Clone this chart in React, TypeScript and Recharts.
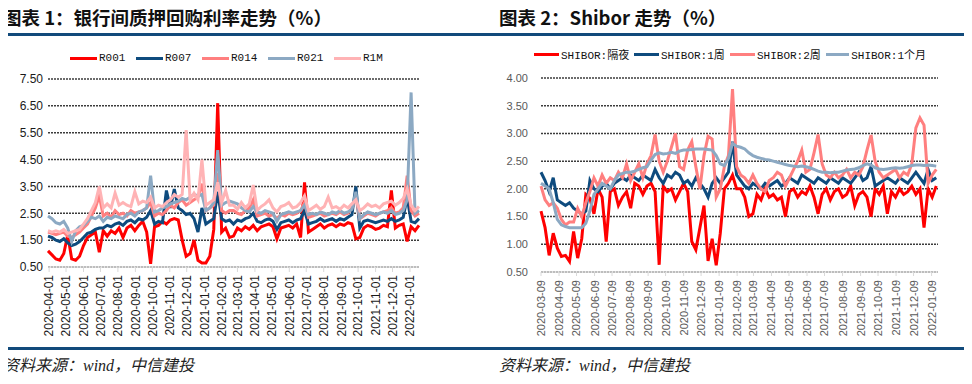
import React from "react";
import { LineChart, Line, XAxis, YAxis, CartesianGrid } from "recharts";

// weekly samples
const REPO_START = "2020-03-30";
const repoTickLabels = [
  "2020-04-01", "2020-05-01", "2020-06-01", "2020-07-01", "2020-08-01", "2020-09-01",
  "2020-10-01", "2020-11-01", "2020-12-01", "2021-01-01", "2021-02-01", "2021-03-01",
  "2021-04-01", "2021-05-01", "2021-06-01", "2021-07-01", "2021-08-01", "2021-09-01",
  "2021-10-01", "2021-11-01", "2021-12-01", "2022-01-01",
];
const repoYTicks = [0.5, 1.5, 2.5, 3.5, 4.5, 5.5, 6.5, 7.5];

const r001 = [
  1.1, 0.95, 0.8, 0.75, 1.0, 1.7, 0.8, 0.75, 0.9, 1.3,
  1.6, 1.7, 1.8, 1.05, 1.85, 1.65, 1.85, 1.75, 1.95, 1.6,
  1.95, 2.05, 1.85, 2.05, 2.2, 1.8, 0.62, 2.0, 2.05, 2.2,
  2.1, 2.25, 2.3, 2.25, 1.5, 0.9, 1.0, 1.5, 0.75, 0.65,
  0.65, 0.9, 1.9, 6.6, 1.8, 1.95, 1.6, 1.65, 1.95, 1.85,
  2.0, 1.9, 2.05, 1.85, 2.0, 2.05, 2.1, 2.0, 1.55, 1.95,
  2.0, 2.05, 1.95, 2.1, 1.6, 3.65, 1.8, 1.9, 2.0, 2.1,
  1.95, 2.05, 2.1, 2.0, 2.1, 2.05, 2.15, 2.1, 1.55, 1.6,
  1.95, 2.05, 2.0, 1.9, 1.95, 2.05, 2.0, 3.35, 1.95, 2.05,
  2.1, 1.45, 2.0, 1.85, 2.05,
];
const r007 = [
  1.65, 1.6, 1.5, 1.45, 1.55, 1.4, 1.3, 1.35, 1.45, 1.6,
  1.75, 1.8, 1.9, 1.95, 1.95, 2.05, 2.0, 2.1, 2.15, 2.05,
  2.2, 2.25, 2.15, 2.3, 2.25, 2.35, 2.6, 2.1, 2.2, 2.15,
  3.35, 2.7, 3.4, 2.7, 2.6, 2.45, 2.5, 2.3, 1.8, 2.7,
  2.1, 2.2, 2.3, 3.3, 2.3, 2.2, 2.25, 2.1, 2.25, 2.2,
  2.3, 2.35, 2.5, 2.2, 2.15, 2.25, 2.3, 2.2, 1.9, 2.15,
  2.2, 2.25, 2.15, 2.25, 2.3, 2.6, 2.1, 2.15, 2.2, 2.3,
  2.2, 2.25, 2.3, 2.2, 2.3, 2.25, 2.35, 2.45, 3.5, 1.95,
  2.2, 2.25, 2.2, 2.15, 2.2, 2.25, 2.2, 2.3, 2.2, 2.25,
  2.35, 3.1, 2.2, 2.15, 2.3,
];
const r014 = [
  1.8, 1.75, 1.7, 1.75, 1.8, 1.65, 1.6, 1.7, 1.8, 1.95,
  2.1, 2.4, 2.7, 3.15, 2.4, 2.5, 2.35, 2.6, 2.45, 2.5,
  2.4, 2.6, 2.5, 2.55, 2.6, 2.7, 2.9, 2.4, 2.5, 2.45,
  2.6, 2.8, 2.7, 2.9, 3.0, 2.8, 2.9, 3.0, 3.1, 3.6,
  2.6, 2.7, 2.8, 4.0, 2.6, 2.5, 2.6, 2.6, 2.5, 2.45,
  2.6, 2.7, 3.0, 2.4, 2.45, 2.5, 2.4, 2.45, 2.3, 2.45,
  2.4, 2.5, 2.45, 2.5, 2.6, 2.9, 2.35, 2.4, 2.45, 2.5,
  2.4, 2.45, 2.5, 2.45, 2.55, 2.45, 2.5, 2.7, 3.1, 2.3,
  2.4, 2.5, 2.45, 2.4, 2.5, 2.55, 2.6, 2.7, 2.5, 2.55,
  2.7, 3.9, 2.6, 2.4, 2.5,
];
const r021 = [
  2.4, 2.3, 2.15, 2.1, 2.2, 1.95, 1.45, 1.85, 2.0, 2.05,
  2.2, 2.35, 2.3, 2.4, 2.2, 2.35, 2.3, 2.4, 2.35, 2.3,
  2.45, 2.5, 2.4, 2.55, 2.6, 2.7, 3.9, 2.55, 2.6, 2.7,
  2.75, 2.85, 2.9, 2.95, 3.05, 3.0, 3.1, 3.2, 3.15, 3.2,
  2.6, 2.7, 2.9, 4.85, 2.8, 2.9, 2.95, 2.9, 2.85, 2.7,
  2.6, 2.55, 2.75, 2.55, 2.5, 2.6, 2.55, 2.5, 2.2, 2.45,
  2.5, 2.55, 2.5, 2.55, 2.6, 2.8, 2.45, 2.5, 2.45, 2.55,
  2.5, 2.45, 2.55, 2.5, 2.6, 2.5, 2.55, 2.65, 3.3, 2.3,
  2.45, 2.55, 2.5, 2.45, 2.5, 2.55, 2.5, 2.6, 2.45, 2.5,
  2.6, 3.0, 7.0, 2.5, 2.6,
];
const r1m = [
  1.85, 1.8, 1.85, 1.8, 1.9, 1.75, 1.8, 1.85, 1.9, 2.1,
  2.3, 2.6, 2.9, 3.5, 2.7, 2.85, 2.7, 3.25, 2.8, 2.9,
  2.8, 2.75, 3.3, 2.85, 2.95, 2.9, 3.1, 2.7, 2.8, 2.75,
  2.9, 3.0, 3.2, 3.1, 3.2, 5.6, 3.0, 3.25, 3.0, 4.5,
  2.8, 2.9, 3.0, 3.65, 2.9, 3.35, 2.8, 2.8, 2.65, 2.9,
  2.7, 2.85, 3.55, 2.6, 2.75, 2.85, 3.0, 2.7, 2.55, 2.75,
  2.8, 2.9, 2.7, 2.75, 2.9, 3.15, 2.6, 2.7, 2.8, 2.65,
  2.75, 3.1, 2.7, 2.75, 2.65, 2.8, 2.7, 2.85, 3.0, 2.6,
  2.7, 2.85, 2.75, 2.8, 2.7, 2.85, 2.9, 2.95, 2.8, 2.9,
  3.05, 3.4, 2.8, 2.6, 2.75,
];

const SHIBOR_START = "2020-03-09";
const shiborTickLabels = [
  "2020-03-09", "2020-04-09", "2020-05-09", "2020-06-09", "2020-07-09", "2020-08-09",
  "2020-09-09", "2020-10-09", "2020-11-09", "2020-12-09", "2021-01-09", "2021-02-09",
  "2021-03-09", "2021-04-09", "2021-05-09", "2021-06-09", "2021-07-09", "2021-08-09",
  "2021-09-09", "2021-10-09", "2021-11-09", "2021-12-09", "2022-01-09",
];
const shiborYTicks = [0.5, 1.0, 1.5, 2.0, 2.5, 3.0, 3.5, 4.0];

const shiborON = [
  1.6, 1.3, 0.8, 1.2, 0.93, 0.78, 0.8, 0.69, 1.23, 0.75,
  1.1, 1.9, 1.83, 1.55, 2.0, 1.85, 1.05, 1.95, 2.0, 1.7,
  1.85, 1.95, 1.65, 2.1, 2.05, 1.9, 2.05, 2.1, 1.95, 0.63,
  2.05, 1.95, 2.0, 1.8, 1.95, 2.1, 1.95, 1.05, 0.9, 1.3,
  1.7, 0.7, 1.1, 0.62, 1.2, 2.0, 2.1, 2.25, 2.0, 2.0,
  1.85, 1.5, 1.55, 1.9, 1.8, 2.0, 1.85, 1.9, 1.8, 1.85,
  1.5, 1.95, 2.0, 1.85, 1.95, 1.9, 2.05, 1.85, 1.55, 1.9,
  2.0, 1.8, 1.95, 2.0, 1.85, 1.9, 2.05, 1.7, 1.9, 1.95,
  1.85, 1.5, 2.0, 1.9, 2.05, 1.55, 1.95, 1.85, 2.0, 1.9,
  1.95, 2.05, 1.9, 2.0, 1.3, 2.0, 1.85, 2.05,
];
const shibor1W = [
  2.3, 2.15, 1.95, 2.2, 1.8, 1.75, 1.7, 1.75, 1.65, 1.6,
  1.55, 1.6, 2.15, 2.0, 1.95, 2.05, 2.1, 2.0, 2.1, 2.15,
  2.2, 2.15, 2.25, 2.2, 2.15, 2.25, 2.2, 2.15, 2.35, 2.2,
  2.1, 2.25, 2.2, 2.3, 2.25, 2.1, 2.15, 2.05, 2.2, 2.1,
  2.0, 1.85, 2.1, 2.2, 2.1, 2.2, 2.3, 2.85, 2.25, 2.15,
  2.05, 2.0, 2.1, 2.05, 2.0, 2.1, 2.05, 2.1, 2.15, 2.05,
  2.1, 2.2, 2.15, 2.1, 2.25, 2.2, 2.15, 2.1, 2.2, 2.15,
  2.1, 2.2, 2.15, 2.1, 2.2, 2.15, 2.1, 2.2, 2.3, 2.15,
  2.2, 2.4, 2.05, 2.1, 2.15, 2.2, 2.15, 2.1, 2.2, 2.15,
  2.1, 2.2, 2.3, 2.2, 2.1, 2.35, 2.15, 2.2,
];
const shibor2W = [
  2.05, 1.8, 1.7, 1.75, 1.65, 1.45, 1.35, 1.4, 1.4, 1.65,
  1.5, 1.75, 1.95, 2.2, 2.05, 2.25, 2.1, 2.2, 2.15, 2.3,
  2.2, 2.45, 2.15, 2.3, 2.45, 2.2, 2.45, 2.6, 2.98, 2.5,
  2.3, 2.5, 2.75, 3.0, 2.4, 2.35, 2.7, 2.85, 2.4, 2.0,
  2.6, 2.95, 2.9, 1.85, 2.0, 2.4, 2.6, 3.8, 2.4, 2.25,
  2.2, 2.1, 2.25, 2.1, 2.0, 1.95, 2.15, 2.2, 2.3, 2.25,
  2.05, 2.2, 2.35, 2.5, 2.7, 2.3, 2.35, 2.65, 2.98, 2.45,
  2.25, 2.2, 2.3, 2.2, 2.25, 2.35, 2.2, 2.3, 2.25, 2.4,
  2.7, 2.97, 2.5, 2.3, 2.2, 2.25, 2.3, 2.35, 2.2, 2.3,
  2.25, 2.45, 3.1, 3.28, 3.15, 2.1, 2.25, 2.35,
];
const shibor1M = [
  2.1, 2.05, 2.0, 1.75, 1.45, 1.35, 1.32, 1.3, 1.3, 1.3,
  1.3, 1.38, 1.6, 1.9, 2.0, 2.1, 2.05, 2.0, 2.15, 2.25,
  2.28, 2.3, 2.3, 2.32, 2.35, 2.38, 2.4, 2.52, 2.62, 2.65,
  2.63, 2.64, 2.66, 2.64, 2.68, 2.7, 2.7, 2.71, 2.72, 2.72,
  2.72, 2.71, 2.7, 2.6, 2.45, 2.42, 2.55, 2.82, 2.77, 2.75,
  2.72, 2.65, 2.6, 2.57, 2.55, 2.53, 2.52, 2.5, 2.48, 2.46,
  2.44, 2.42, 2.41, 2.4, 2.41, 2.4, 2.38, 2.35, 2.32, 2.3,
  2.3, 2.29, 2.3, 2.3, 2.32, 2.34, 2.35, 2.36, 2.38, 2.42,
  2.45, 2.43, 2.38, 2.36, 2.35, 2.36, 2.37, 2.38, 2.37, 2.38,
  2.4, 2.42, 2.43, 2.43, 2.42, 2.43, 2.42, 2.41,
];

const RED = "#FF0000";
const NAVY = "#0E4B7E";
const SALMON = "#FF7F7F";
const STEEL = "#8CA9C3";
const PINK = "#FFB3B5";
const RULE = "#124A7B";

const DAY = 86400000;
const dayFrom = (start: string) => (s: string) => Math.round((Date.parse(s) - Date.parse(start)) / DAY);

const repoDay = dayFrom(REPO_START);
const repoTicks = repoTickLabels.map(repoDay);
const repoLabel = new Map(repoTicks.map((d, i) => [d, repoTickLabels[i]]));
const repoData = r001.map((v, i) => ({
  t: i * 7,
  R001: v,
  R007: r007[i],
  R014: r014[i],
  R021: r021[i],
  R1M: r1m[i],
}));

const shiborDay = dayFrom(SHIBOR_START);
const shiborTicks = shiborTickLabels.map(shiborDay);
const shiborLabel = new Map(shiborTicks.map((d, i) => [d, shiborTickLabels[i]]));
const shiborData = shiborON.map((v, i) => ({
  t: i * 7,
  on: v,
  w1: shibor1W[i],
  w2: shibor2W[i],
  m1: shibor1M[i],
}));

const repoSeries = [
  { key: "R001", name: "R001", color: RED },
  { key: "R007", name: "R007", color: NAVY },
  { key: "R014", name: "R014", color: SALMON },
  { key: "R021", name: "R021", color: STEEL },
  { key: "R1M", name: "R1M", color: PINK },
];
const shiborSeries = [
  { key: "on", name: "SHIBOR:隔夜", color: RED },
  { key: "w1", name: "SHIBOR:1周", color: NAVY },
  { key: "w2", name: "SHIBOR:2周", color: SALMON },
  { key: "m1", name: "SHIBOR:1个月", color: STEEL },
];

const SANS = "'Liberation Sans', Arial, sans-serif";
const TITLE_FONT = "'Noto Sans CJK SC', 'Liberation Sans', sans-serif";
const LEGEND_FONT = "'Liberation Mono', 'Noto Sans CJK SC', monospace";
const SOURCE_FONT = "'Liberation Serif', 'Noto Sans CJK SC', serif";

function RotTick(props: any) {
  const { x, y, payload, labels, fill, size } = props;
  return (
    <g transform={`translate(${x},${y})`}>
      <text transform="rotate(-90)" textAnchor="end" dy="0.36em" fill={fill} fontSize={size} fontFamily={SANS}>
        {labels.get(payload.value)}
      </text>
    </g>
  );
}

function LegendRow({ items, left, top, lineW, widths }: any) {
  return (
    <div style={{ position: "absolute", left, top, display: "flex", alignItems: "center", height: 14 }}>
      {items.map((s: any, i: number) => (
        <div key={s.key} style={{ display: "flex", alignItems: "center", width: widths[i] }}>
          <div style={{ width: lineW, height: 3, background: s.color, marginRight: 2 }} />
          <span style={{ fontFamily: LEGEND_FONT, fontSize: 11, color: "#111", whiteSpace: "nowrap" }}>{s.name}</span>
        </div>
      ))}
    </div>
  );
}

const titleStyle: React.CSSProperties = {
  position: "absolute",
  top: 5,
  fontFamily: TITLE_FONT,
  fontWeight: 700,
  fontSize: 18.5,
  color: "#111",
  whiteSpace: "nowrap",
  lineHeight: "24px",
};
const sourceStyle: React.CSSProperties = {
  position: "absolute",
  top: 355,
  fontFamily: SOURCE_FONT,
  fontStyle: "italic",
  fontSize: 16,
  color: "#222",
  whiteSpace: "nowrap",
  lineHeight: "22px",
};

export default function App() {
  return (
    <div style={{ position: "relative", width: 972, height: 384, margin: -8, background: "#fff", overflow: "hidden" }}>
      <div style={{ ...titleStyle, left: 3 }}>图表 1：银行间质押回购利率走势（%）</div>
      <div style={{ ...titleStyle, left: 499 }}>图表 2：Shibor 走势（%）</div>
      <div style={{ position: "absolute", left: 3, top: 33, width: 963, height: 3, background: RULE }} />

      <LegendRow items={repoSeries} left={70} top={51} lineW={27} widths={[66, 66, 66, 66, 66]} />
      <LegendRow items={shiborSeries} left={534} top={47} lineW={25} widths={[100, 96, 96, 100]} />

      <div style={{ position: "absolute", left: 0, top: 0 }}>
        <LineChart width={486} height={340} data={repoData} margin={{ top: 79, right: 67, bottom: 8, left: 0 }}>
          <CartesianGrid vertical={false} stroke="#3c3c3c" strokeWidth={1.5} strokeDasharray="2 1" />
          <XAxis
            dataKey="t"
            type="number"
            domain={[0, 658]}
            ticks={repoTicks}
            interval={0}
            height={65}
            axisLine={{ stroke: "#D9D9D9", strokeWidth: 1.5 }}
            tickLine={{ stroke: "#D9D9D9" }}
            tickSize={5}
            tickMargin={3}
            tick={(p: any) => <RotTick {...p} labels={repoLabel} fill="#1a1a1a" size={12} />}
          />
          <YAxis
            type="number"
            domain={[0.5, 7.5]}
            ticks={repoYTicks}
            interval={0}
            width={48}
            axisLine={false}
            tickLine={false}
            tickSize={0}
            tickMargin={5}
            tickFormatter={(v: number) => v.toFixed(2)}
            tick={{ fill: "#1a1a1a", fontSize: 12, fontFamily: SANS }}
          />
          {repoSeries.map((s) => (
            <Line
              key={s.key}
              type="linear"
              dataKey={s.key}
              name={s.name}
              stroke={s.color}
              strokeWidth={3}
              dot={false}
              isAnimationActive={false}
            />
          ))}
        </LineChart>
      </div>

      <div style={{ position: "absolute", left: 486, top: 0 }}>
        <LineChart width={486} height={345} data={shiborData} margin={{ top: 78, right: 34, bottom: 8, left: 0 }}>
          <CartesianGrid vertical={false} stroke="#3c3c3c" strokeWidth={1.5} strokeDasharray="2 1" />
          <XAxis
            dataKey="t"
            type="number"
            domain={[0, 682]}
            ticks={shiborTicks}
            interval={0}
            height={65}
            axisLine={{ stroke: "#D9D9D9", strokeWidth: 1.5 }}
            tickLine={{ stroke: "#D9D9D9" }}
            tickSize={4}
            tickMargin={4}
            tick={(p: any) => <RotTick {...p} labels={shiborLabel} fill="#595959" size={11} />}
          />
          <YAxis
            type="number"
            domain={[0.5, 4]}
            ticks={shiborYTicks}
            interval={0}
            width={55}
            axisLine={false}
            tickLine={false}
            tickSize={0}
            tickMargin={13}
            tickFormatter={(v: number) => v.toFixed(2)}
            tick={{ fill: "#595959", fontSize: 11, fontFamily: SANS }}
          />
          {shiborSeries.map((s) => (
            <Line
              key={s.key}
              type="linear"
              dataKey={s.key}
              name={s.name}
              stroke={s.color}
              strokeWidth={3}
              dot={false}
              isAnimationActive={false}
            />
          ))}
        </LineChart>
      </div>

      <div style={{ position: "absolute", left: 3, top: 347, width: 963, height: 3, background: RULE }} />
      <div style={{ ...sourceStyle, left: 3 }}>资料来源：wind，中信建投</div>
      <div style={{ ...sourceStyle, left: 499 }}>资料来源：wind，中信建投</div>
    </div>
  );
}
